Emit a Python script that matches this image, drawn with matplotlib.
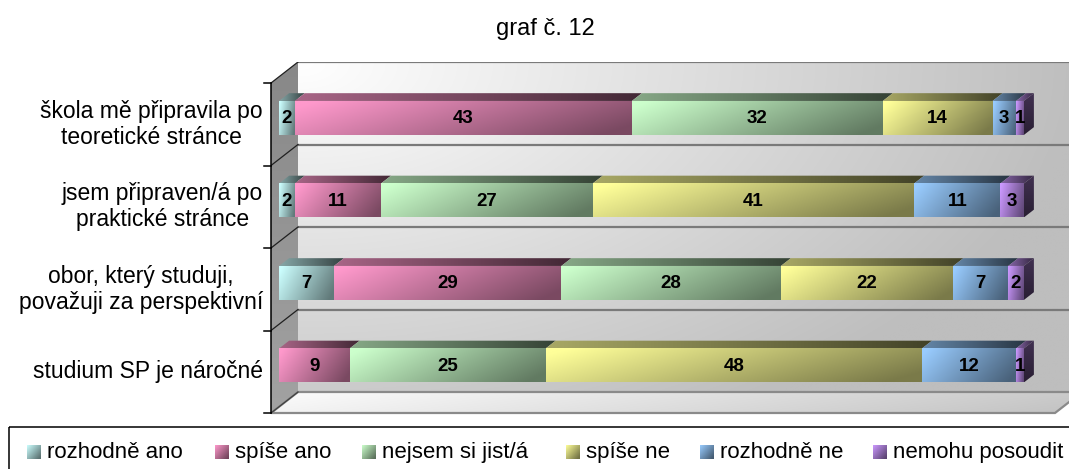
import numpy as np
import matplotlib
matplotlib.use('Agg')
import matplotlib.pyplot as plt
from matplotlib.patches import Polygon, Rectangle
from matplotlib.colors import to_rgb
from matplotlib.transforms import blended_transform_factory

plt.rcParams['font.family'] = ['Liberation Sans', 'DejaVu Sans']

# ---------------- data ----------------
title = 'graf č. 12'
categories = ['škola mě připravila po\nteoretické stránce',
              'jsem připraven/á po\npraktické stránce',
              'obor, který studuji,\npovažuji za perspektivní',
              'studium SP je náročné']
series_names = ['rozhodně ano', 'spíše ano', 'nejsem si jist/á',
                'spíše ne', 'rozhodně ne', 'nemohu posoudit']
rozhodne_ano = [2, 2, 7, 0]
spise_ano = [43, 11, 29, 9]
nejsem_si_jist = [32, 27, 28, 25]
spise_ne = [14, 41, 22, 48]
rozhodne_ne = [3, 11, 7, 12]
nemohu_posoudit = [1, 3, 2, 1]
series_values = [rozhodne_ano, spise_ano, nejsem_si_jist,
                 spise_ne, rozhodne_ne, nemohu_posoudit]
series_colors = ['#CCFFFF', '#FF99CC', '#CCFFCC', '#FFFF99', '#99CCFF', '#CC99FF']
axis_max = 100

# ---------------- layout ----------------
W, H = 1069, 469
fig = plt.figure(figsize=(W / 100, H / 100), dpi=100)

overlay = fig.add_axes([0, 0, 1, 1])
overlay.set_xlim(0, W)
overlay.set_ylim(H, 0)
overlay.axis('off')

AX_L, AX_R, AX_T, AX_B = 271, 1069, 62, 413
PX_X = 7.84      # pixels per value unit
PX_Y = 82.5      # pixels per category
ax = fig.add_axes([AX_L / W, 1 - AX_B / H, (AX_R - AX_L) / W, (AX_B - AX_T) / H])
ax.axis('off')
n_cat = len(categories)
y_bottom = n_cat - 0.5
y_top = y_bottom - (AX_B - AX_T) / PX_Y
DX = 27 / PX_X
DY = -21 / PX_Y


def col(c, k=1.0):
    return np.clip(np.array(to_rgb(c)) * k, 0, 1)


def grad_fill(a, verts, c0, c1, tfunc=None, zorder=1, n=96):
    verts = np.asarray(verts, float)
    x0, x1 = verts[:, 0].min(), verts[:, 0].max()
    ya, yb = verts[:, 1].min(), verts[:, 1].max()
    hh = np.linspace(0, 1, n)[None, :] * np.ones((n, 1))
    vv = np.linspace(0, 1, n)[:, None] * np.ones((1, n))
    t = hh if tfunc is None else tfunc(hh, vv)
    t = np.clip(t, 0, 1)[..., None]
    arr = np.asarray(c0)[None, None, :] * (1 - t) + np.asarray(c1)[None, None, :] * t
    poly = Polygon(verts, closed=True, facecolor='none', edgecolor='none', zorder=zorder)
    a.add_patch(poly)
    if a.yaxis_inverted():
        ext = [x0, x1, yb, ya]
    else:
        ext = [x0, x1, ya, yb]
        arr = arr[::-1]
    im = a.imshow(arr, extent=ext, origin='upper', aspect='auto',
                  interpolation='bilinear', zorder=zorder)
    im.set_clip_path(poly)
    return im


ax.set_xlim(0, (AX_R - AX_L) / PX_X)
ax.set_ylim(y_bottom, y_top)

# back wall
wall = [(DX, -0.5 + DY), (axis_max + DX, -0.5 + DY),
        (axis_max + DX, y_bottom + DY), (DX, y_bottom + DY)]
grad_fill(ax, wall, col('#FFFFFF'), col('#BEBEBE'),
          tfunc=lambda h, v: np.sqrt(h ** 2 + (0.8 * v) ** 2), zorder=1)
# side wall
side = [(0, -0.5), (DX, -0.5 + DY), (DX, y_bottom + DY), (0, y_bottom)]
grad_fill(ax, side, col('#888888'), col('#A2A2A2'),
          tfunc=lambda h, v: v, zorder=1)
# floor
floor = [(0, y_bottom), (axis_max, y_bottom), (axis_max + DX, y_bottom + DY), (DX, y_bottom + DY)]
grad_fill(ax, floor, col('#FCFCFC'), col('#C2C2C2'),
          tfunc=lambda h, v: 0.85 * h + 0.15 * v, zorder=1)
ax.add_patch(Polygon(floor, closed=True, fill=False, edgecolor='#8A8A8A', lw=1.6,
                     zorder=2, clip_on=False))

# gridlines on back wall and side wall
bounds = np.arange(n_cat + 1) - 0.5
for b in bounds[:-1]:
    ax.plot([DX, axis_max + DX], [b + DY, b + DY], color='#7A7A7A', lw=1.6, zorder=2,
            solid_capstyle='butt')
    ax.plot([0, DX], [b, b + DY], color='#202020', lw=0.9, zorder=2)
ax.plot([0, DX], [y_bottom, y_bottom + DY], color='#404040', lw=0.9, zorder=2, clip_on=False)

# category axis
ax.plot([0, 0], [bounds[0], bounds[-1]], color='black', lw=1.1, zorder=3, clip_on=False)
for b in bounds:
    ax.plot([-7 / PX_X, 0], [b, b], color='black', lw=1.1, zorder=3, clip_on=False)

# ---------------- bars ----------------
f0 = 0.30          # depth position of bar front
fb = 0.37          # bar depth
bh = 34 / PX_Y     # bar thickness
ypos = np.arange(n_cat) + f0 * DY
left = np.zeros(n_cat)
last_seg = {}
segments = []
for s, (vals, c) in enumerate(zip(series_values, series_colors)):
    vals = np.asarray(vals, float)
    bars = ax.barh(ypos, vals, left=left + f0 * DX, height=bh, color=c,
                   edgecolor='none', zorder=4)
    for i, (b, v) in enumerate(zip(bars, vals)):
        if v <= 0:
            continue
        x0 = b.get_x()
        x1 = x0 + b.get_width()
        yt = b.get_y()
        yb = yt + b.get_height()
        segments.append((x0, x1, yt, yb, c, v))
        last_seg[i] = (x0, x1, yt, yb, c)
    left = left + vals

for (x0, x1, yt, yb, c, v) in segments:
    front = [(x0, yt), (x1, yt), (x1, yb), (x0, yb)]
    grad_fill(ax, front, col(c), col(c, 0.48),
              tfunc=lambda h, v_: 0.85 * h + 0.28 * v_ - 0.05, zorder=5)
    top = [(x0, yt), (x1, yt), (x1 + fb * DX, yt + fb * DY), (x0 + fb * DX, yt + fb * DY)]
    grad_fill(ax, top, col(c, 0.66), col(c, 0.26), zorder=5)
    ax.text((x0 + x1) / 2, (yt + yb) / 2 + 0.01, f'{int(v)}', ha='center', va='center',
            fontsize=13.5, fontweight='bold', color='black', zorder=8)

for i, (x0, x1, yt, yb, c) in last_seg.items():
    rside = [(x1, yt), (x1, yb), (x1 + fb * DX, yb + fb * DY), (x1 + fb * DX, yt + fb * DY)]
    grad_fill(ax, rside, col(c, 0.32), col(c, 0.2),
              tfunc=lambda h, v: v, zorder=5)

# ---------------- labels ----------------
trans = blended_transform_factory(overlay.transData, ax.transData)
for i, cat in enumerate(categories):
    ax.text(263, i, cat, transform=trans, ha='right', va='center',
            multialignment='center', fontsize=16.5, color='black', linespacing=1.15)

overlay.text(545, 29, title, ha='center', va='center', fontsize=17, color='black')

# ---------------- legend ----------------
overlay.add_patch(Rectangle((9, 427), 1200, 100, fill=False, edgecolor='black', lw=1.1,
                            clip_on=False))
leg_x = [27, 215, 362, 566, 700, 873]
for name, c, lx in zip(series_names, series_colors, leg_x):
    sq = [(lx, 445), (lx + 14, 445), (lx + 14, 459), (lx, 459)]
    grad_fill(overlay, sq, col(c), col(c, 0.45),
              tfunc=lambda h, v: 0.6 * h + 0.5 * v, zorder=3)
    overlay.text(lx + 20, 458, name, ha='left', va='baseline', fontsize=16, color='black')

fig.savefig('out.png', dpi=100)
